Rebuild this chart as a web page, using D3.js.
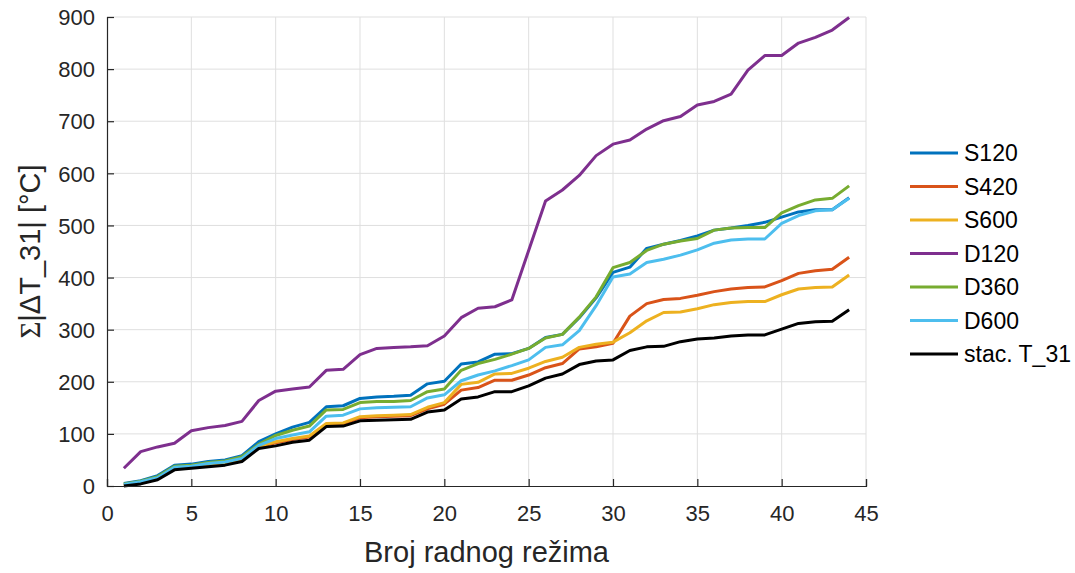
<!DOCTYPE html>
<html>
<head>
<meta charset="utf-8">
<script src="https://cdn.jsdelivr.net/npm/d3@7"></script>
<style>
  html, body { margin: 0; padding: 0; background: #fff; }
  svg { display: block; font-family: "Liberation Sans", Arial, sans-serif; }
</style>
</head>
<body>
<svg id="chart" width="1075" height="573"></svg>
<script>
const xValues = d3.range(1, 45);
const seriesNames = ["S120", "S420", "S600", "D120", "D360", "D600", "stac. T_31"];
const seriesColors = ["#0072BD", "#D95319", "#EDB120", "#7E2F8E", "#77AC30", "#4DBEEE", "#000000"];

const S120 = [5,10,20,40,42,47,50,58,85,100,113,122,152,154,168,171,172,174,196,201,234,238,253,254,264,285,291,323,361,410,420,456,464,471,480,491,495,500,506,516,526,530,530,553];
const S420 = [2,6,14,34,36,40,43,51,75,83,89,94,118,119,131,133,134,135,148,157,184,189,203,203,213,227,235,263,267,274,326,350,358,360,366,373,378,381,382,394,408,413,416,439];
const S600 = [2,7,15,35,37,41,44,52,76,85,91,96,120,121,133,135,136,137,151,160,195,199,215,216,226,239,247,266,272,276,294,317,333,334,340,348,352,354,354,367,378,381,382,405];
const D120 = [34,66,75,82,106,112,116,124,164,182,186,190,222,224,252,264,266,267,269,288,323,341,344,357,452,547,568,596,634,656,664,685,701,709,731,738,752,798,826,826,850,861,875,899];
const D360 = [4,9,18,38,40,45,48,56,80,97,107,115,146,147,160,162,162,164,181,186,222,235,243,253,264,284,291,324,363,419,429,452,464,470,475,491,495,496,496,524,538,549,552,576];
const D600 = [3,8,16,36,38,43,46,53,78,91,98,104,134,136,148,150,151,152,169,175,202,213,221,231,242,266,271,298,346,401,407,429,435,443,453,466,472,474,474,504,519,528,530,552];
const stacT31 = [0,4,12,31,34,37,40,47,72,77,84,88,114,115,125,126,127,128,142,146,167,171,181,181,192,207,215,233,240,242,260,267,268,277,282,284,288,290,290,301,312,315,316,338];

const xTicks = [0, 5, 10, 15, 20, 25, 30, 35, 40, 45];
const yTicks = [0, 100, 200, 300, 400, 500, 600, 700, 800, 900];

const seriesData = [S120, S420, S600, D120, D360, D600, stacT31];

const svg = d3.select("#chart");
const margin = { left: 107, right: 1075 - 866, top: 17, bottom: 573 - 486 };
const W = 1075, H = 573;

const x = d3.scaleLinear().domain([0, 45]).range([margin.left, W - margin.right]);
const y = d3.scaleLinear().domain([0, 900]).range([H - margin.bottom, margin.top]);

const axisColor = "#262626";

// grid
const grid = svg.append("g");
grid.selectAll("line.vg").data(xTicks.filter(d => d > 0)).join("line")
  .attr("x1", d => x(d)).attr("x2", d => x(d))
  .attr("y1", y(0)).attr("y2", y(900))
  .attr("stroke", "#dfdfdf").attr("stroke-width", 1);
grid.selectAll("line.hg").data(yTicks.filter(d => d > 0)).join("line")
  .attr("x1", x(0)).attr("x2", x(45))
  .attr("y1", d => y(d)).attr("y2", d => y(d))
  .attr("stroke", "#dfdfdf").attr("stroke-width", 1);

// lines
const line = d3.line().x((d, i) => x(xValues[i])).y(d => y(d));
svg.append("g").selectAll("path").data(seriesData).join("path")
  .attr("d", d => line(d))
  .attr("fill", "none")
  .attr("stroke", (d, i) => seriesColors[i])
  .attr("stroke-width", 3)
  .attr("stroke-linejoin", "round");

// axes
const xAxis = d3.axisBottom(x).tickValues(xTicks).tickSize(-7).tickPadding(19).tickFormat(d3.format("d"));
const yAxis = d3.axisLeft(y).tickValues(yTicks).tickSize(-7).tickPadding(12).tickFormat(d3.format("d"));

const gx = svg.append("g").attr("transform", `translate(0,${y(0)})`).call(xAxis);
const gy = svg.append("g").attr("transform", `translate(${x(0)},0)`).call(yAxis);
[gx, gy].forEach(g => {
  g.select(".domain").attr("stroke", axisColor).attr("stroke-width", 1.2);
  g.selectAll(".tick line").attr("stroke", axisColor).attr("stroke-width", 1.2);
  g.selectAll(".tick text").attr("fill", axisColor).style("font-size", "22px")
    .style("font-family", "'Liberation Sans', Arial, sans-serif");
});
gy.selectAll(".tick text").attr("dy", "0.35em");

// axis labels
svg.append("text")
  .attr("x", (x(0) + x(45)) / 2).attr("y", 562)
  .attr("text-anchor", "middle").attr("fill", axisColor)
  .style("font-size", "29px")
  .text("Broj radnog režima");

const yl = svg.append("text")
  .attr("transform", `translate(40,${(y(0) + y(900)) / 2}) rotate(-90)`)
  .attr("text-anchor", "middle").attr("fill", axisColor)
  .style("font-size", "29px");
yl.append("tspan").style("font-family", "'Liberation Serif', 'Times New Roman', serif").text("Σ");
yl.append("tspan").text("|ΔT_31| [°C]");

// legend
const legend = svg.append("g");
const legY0 = 153, legDy = 33.5;
seriesNames.forEach((name, i) => {
  const ly = legY0 + i * legDy;
  legend.append("line")
    .attr("x1", 910).attr("x2", 958).attr("y1", ly).attr("y2", ly)
    .attr("stroke", seriesColors[i]).attr("stroke-width", 3);
  legend.append("text")
    .attr("x", 964).attr("y", ly).attr("dy", "0.35em")
    .attr("fill", "#000").style("font-size", "23px")
    .text(name);
});
</script>
</body>
</html>
